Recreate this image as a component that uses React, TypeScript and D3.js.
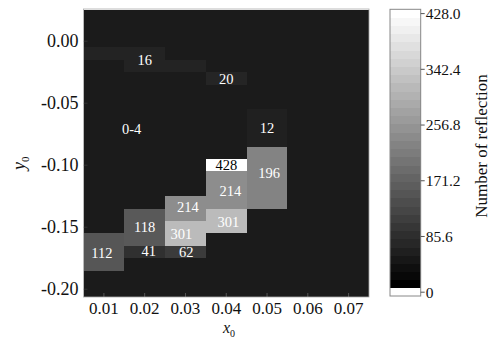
import React from "react";
import * as d3 from "d3";

// grid (cell centres)
const xCenters = [0.01, 0.02, 0.03, 0.04, 0.05, 0.06, 0.07];
const yCenters = [0.02, 0.01, 0.0, -0.01, -0.02, -0.03, -0.04, -0.05, -0.06, -0.07, -0.08, -0.09, -0.1, -0.11, -0.12, -0.13, -0.14, -0.15, -0.16, -0.17, -0.18, -0.19, -0.2, -0.21];
const backgroundValue = 2; // "0-4"

// non-background cells
const cellX = [0.01, 0.02, 0.02, 0.03, 0.04, 0.05, 0.05, 0.05, 0.05, 0.05, 0.05, 0.05, 0.05, 0.04, 0.04, 0.04, 0.04, 0.04, 0.04, 0.03, 0.03, 0.03, 0.03, 0.03, 0.02, 0.02, 0.02, 0.02, 0.01, 0.01, 0.01];
const cellY = [-0.01, -0.01, -0.02, -0.02, -0.03, -0.06, -0.07, -0.08, -0.09, -0.1, -0.11, -0.12, -0.13, -0.1, -0.11, -0.12, -0.13, -0.14, -0.15, -0.13, -0.14, -0.15, -0.16, -0.17, -0.14, -0.15, -0.16, -0.17, -0.16, -0.17, -0.18];
const cellValue = [16, 16, 16, 16, 20, 12, 12, 12, 196, 196, 196, 196, 196, 428, 214, 214, 214, 301, 301, 214, 214, 301, 301, 62, 118, 118, 118, 41, 112, 112, 112];

// labels
const labelText = ["16", "20", "12", "0-4", "428", "196", "214", "214", "301", "301", "118", "41", "62", "112"];
const labelX = [0.02, 0.04, 0.05, 0.0168, 0.04, 0.0505, 0.041, 0.0306, 0.0405, 0.029, 0.02, 0.021, 0.0302, 0.0095];
const labelY = [-0.015, -0.03, -0.07, -0.071, -0.1, -0.106, -0.121, -0.134, -0.146, -0.1555, -0.15, -0.169, -0.17, -0.1705];

const xTicks = [0.01, 0.02, 0.03, 0.04, 0.05, 0.06, 0.07];
const xTickLabels = ["0.01", "0.02", "0.03", "0.04", "0.05", "0.06", "0.07"];
const yTicks = [0.0, -0.05, -0.1, -0.15, -0.2];
const yTickLabels = ["0.00", "-0.05", "-0.10", "-0.15", "-0.20"];
const cbTicks = [0, 85.6, 171.2, 256.8, 342.4, 428];
const cbTickLabels = ["0", "85.6", "171.2", "256.8", "342.4", "428.0"];
const cbBands = 34;

const FONT = "'Liberation Serif', 'Times New Roman', serif";

export default function App() {
  const W = 497, H = 340;
  const left = 83.5, right = 369, top = 9, bottom = 297;
  const x = d3.scaleLinear().domain([0.005, 0.075]).range([left, right]);
  const y = d3.scaleLinear().domain([-0.2063, 0.026]).range([bottom, top]);
  const color = d3.scaleLinear<string>().domain([0, 428]).range(["#1a1a1a", "#ffffff"]);

  const lookup = new Map<string, number>();
  cellX.forEach((cx, i) => lookup.set(`${cx.toFixed(3)}|${cellY[i].toFixed(3)}`, cellValue[i]));

  const cells: { x0: number; x1: number; y0: number; y1: number; v: number }[] = [];
  xCenters.forEach((cx) => {
    yCenters.forEach((cy) => {
      const v = lookup.get(`${cx.toFixed(3)}|${cy.toFixed(3)}`);
      cells.push({
        x0: x(cx - 0.005),
        x1: x(cx + 0.005),
        y0: y(cy + 0.005),
        y1: y(cy - 0.005),
        v: v === undefined ? backgroundValue : v,
      });
    });
  });

  // colorbar
  const cbL = 390, cbR = 420.7, cbTop = 9.3, cbBandBottom = 288.3, cbBottom = 296;
  const cbY = d3.scaleLinear().domain([0, 428]).range([292.2, 13.6]);
  const bandScale = d3.scaleLinear().domain([0, cbBands]).range([cbBandBottom, cbTop]);
  const bandGray = d3.scaleLinear<string>().domain([0, cbBands - 1]).range(["#000000", "#ffffff"]);
  const bands = d3.range(cbBands);

  return (
    <svg width={W} height={H} style={{ position: "absolute", left: 0, top: 0, background: "#fff" }} fontFamily={FONT}>
      <defs>
        <clipPath id="plotclip">
          <rect x={left} y={top} width={right - left} height={bottom - top} />
        </clipPath>
      </defs>
      <g clipPath="url(#plotclip)" shapeRendering="crispEdges">
        {cells.map((c, i) => (
          <rect key={i} x={c.x0} y={c.y0} width={c.x1 - c.x0 + 0.3} height={c.y1 - c.y0 + 0.3} fill={color(c.v)} />
        ))}
      </g>
      {/* inward ticks */}
      {xTicks.map((t, i) => (
        <line key={"xt" + i} x1={x(t)} x2={x(t)} y1={bottom} y2={bottom - 4} stroke="#555" strokeWidth={1} />
      ))}
      {yTicks.map((t, i) => (
        <line key={"yt" + i} x1={left} x2={left + 4} y1={y(t)} y2={y(t)} stroke="#333" strokeWidth={1} />
      ))}
      <rect x={left} y={top} width={right - left} height={bottom - top} fill="none" stroke="#aaa" strokeWidth={0.8} />
      {/* cell labels */}
      {labelText.map((t, i) => (
        <text key={"lb" + i} x={x(labelX[i])} y={y(labelY[i])} dy="0.35em" textAnchor="middle" fontSize={14.5}
          fill={t === "428" ? "#000" : "#fff"}>{t}</text>
      ))}
      {/* x tick labels */}
      {xTicks.map((t, i) => (
        <text key={"xl" + i} x={x(t)} y={314} textAnchor="middle" fontSize={17} fill="#111">{xTickLabels[i]}</text>
      ))}
      {/* y tick labels */}
      {yTicks.map((t, i) => (
        <text key={"yl" + i} x={78.5} y={y(t)} dy="0.33em" textAnchor="end" fontSize={18} fill="#111">{yTickLabels[i]}</text>
      ))}
      {/* axis labels */}
      <text x={223} y={333} fontSize={16} fontStyle="italic" fill="#111">x<tspan fontSize={10} dy={3.5} fontStyle="normal">0</tspan></text>
      <text transform="translate(25,170) rotate(-90)" fontSize={18} fontStyle="italic" fill="#111">y<tspan fontSize={11} dy={4} fontStyle="normal">0</tspan></text>
      {/* colorbar */}
      <g shapeRendering="crispEdges">
        {bands.map((b) => (
          <rect key={"cb" + b} x={cbL} y={bandScale(b + 1)} width={cbR - cbL} height={bandScale(b) - bandScale(b + 1) + 0.3} fill={bandGray(b)} />
        ))}
        <rect x={cbL} y={cbBandBottom} width={cbR - cbL} height={cbBottom - cbBandBottom} fill="#fff" />
      </g>
      <rect x={cbL} y={cbTop} width={cbR - cbL} height={cbBottom - cbTop} fill="none" stroke="#888" strokeWidth={1} />
      {cbTicks.map((t, i) => (
        <g key={"cbt" + i}>
          <line x1={cbR} x2={cbR + 4} y1={cbY(t)} y2={cbY(t)} stroke="#555" strokeWidth={1} />
          <text x={cbR + 5} y={cbY(t)} dy="0.35em" fontSize={15.5} fill="#111">{cbTickLabels[i]}</text>
        </g>
      ))}
      <text transform="translate(486.5,146) rotate(-90)" textAnchor="middle" fontSize={17} fill="#111">Number of reflection</text>
    </svg>
  );
}
